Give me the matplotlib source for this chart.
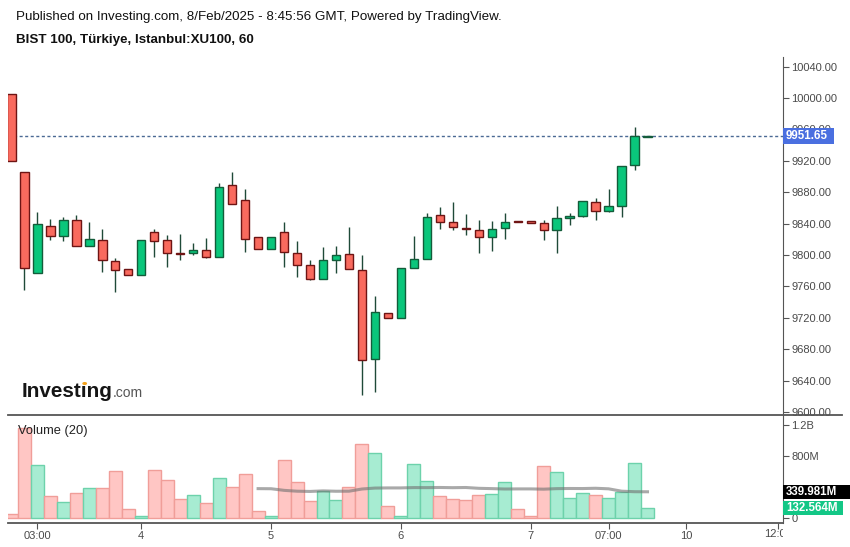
import matplotlib
matplotlib.use("Agg")
import matplotlib.pyplot as plt
import numpy as np
import pandas as pd
from matplotlib.patches import Rectangle, Circle
from matplotlib.lines import Line2D
from matplotlib.transforms import Bbox, TransformedBbox

plt.rcParams['font.family'] = ['Liberation Sans', 'DejaVu Sans']

# hourly candles, BIST 100
opens = [10004.7, 9905.4, 9776.7, 9836.9, 9823.8, 9844.2, 9811.1, 9818.7, 9791.9, 9781.8,
         9774.1, 9828.9, 9818.7, 9802.2, 9802.2, 9806.0, 9797.1, 9888.8, 9869.7, 9822.6,
         9807.3, 9828.9, 9802.2, 9786.9, 9769.0, 9793.2, 9800.9, 9780.5, 9667.1, 9725.7,
         9719.4, 9783.1, 9794.5, 9850.6, 9841.6, 9834.0, 9831.5, 9822.6, 9834.0, 9843.2,
         9842.9, 9840.4, 9831.5, 9846.7, 9849.3, 9867.1, 9855.7, 9862.0, 9914.3, 9950.6]
highs = [10004.7, 9905.4, 9854.4, 9845.9, 9848.4, 9850.9, 9842.0, 9833.1, 9795.8, 9781.8,
         9818.7, 9833.1, 9825.5, 9826.7, 9815.3, 9821.3, 9891.3, 9905.3, 9883.7, 9822.6,
         9822.6, 9841.6, 9817.4, 9793.2, 9809.8, 9811.1, 9835.3, 9799.6, 9747.4, 9725.7,
         9783.1, 9823.8, 9853.5, 9860.8, 9867.1, 9852.2, 9844.2, 9842.9, 9853.5, 9843.2,
         9842.9, 9844.2, 9862.0, 9853.5, 9868.4, 9872.2, 9883.7, 9913.0, 9962.7, 9951.65]
lows = [9919.7, 9755.4, 9776.7, 9819.5, 9818.2, 9811.1, 9811.1, 9777.9, 9752.5, 9774.1,
        9774.1, 9797.8, 9784.3, 9793.2, 9799.6, 9795.8, 9797.1, 9864.6, 9804.2, 9807.3,
        9807.3, 9785.1, 9771.6, 9767.8, 9769.0, 9776.7, 9781.8, 9621.3, 9625.1, 9719.4,
        9719.4, 9783.1, 9794.5, 9833.5, 9832.2, 9825.1, 9802.2, 9804.7, 9820.0, 9842.6,
        9840.4, 9818.7, 9802.2, 9837.8, 9848.0, 9844.2, 9854.5, 9848.0, 9907.9, 9950.6]
closes = [9919.7, 9783.1, 9839.1, 9823.8, 9844.2, 9811.1, 9820.0, 9793.2, 9780.5, 9774.1,
          9818.7, 9817.4, 9802.2, 9800.9, 9806.0, 9797.1, 9886.2, 9864.6, 9820.0, 9807.3,
          9822.6, 9803.4, 9786.9, 9769.0, 9793.2, 9799.6, 9781.8, 9665.9, 9727.0, 9719.4,
          9783.1, 9794.6, 9848.0, 9841.6, 9835.3, 9832.7, 9822.6, 9832.7, 9841.6, 9842.6,
          9840.4, 9831.5, 9846.7, 9849.3, 9868.4, 9855.7, 9862.0, 9913.0, 9951.2, 9951.65]
# volume in millions
volumes = [47.6, 1167, 683, 281, 203, 320, 385, 385, 605, 112,
           22, 618, 488, 242, 294, 190, 514, 398, 566, 95,
           22, 748, 463, 216, 346, 229, 398, 955, 847, 151,
           22.06, 705, 476, 281, 242, 238, 303, 316, 467, 121,
           22, 680, 600, 255, 329, 303, 255, 342, 710, 132.564]

tick_pos = [2, 10, 20, 30, 40, 46, 52, 59.05]
tick_labels = ['03:00', '4', '5', '6', '7', '07:00', '10', '12:00']
price_ticks = list(range(9600, 10041, 40))
vol_ticks = [0, 400, 800, 1200]
vol_tick_labels = ['0', '', '800M', '1.2B']  # 400M sits under the MA box

W, H = 850, 547
def fx(px):
    return px / W
def fy(py):
    return 1 - py / H

fig = plt.figure(figsize=(8.5, 5.47), dpi=100)
ax1 = fig.add_axes([fx(8), fy(415), (783 - 8) / W, (415 - 57) / H])
ax2 = fig.add_axes([fx(8), fy(523), (783 - 8) / W, (523 - 415) / H])

x = np.arange(len(opens))
o = np.array(opens); c = np.array(closes)
up = c > o

red_fill, red_edge = '#f96a5e', '#6e1414'
grn_fill, grn_edge = '#0ac67b', '#135c3a'
wick = '#1f4a38'
axis_col = '#555555'
lab_col = '#4a4a4a'

# candles
ax1.vlines(x, lows, highs, color=wick, lw=1, zorder=1)
ax1.bar(x, np.abs(c - o), bottom=np.minimum(o, c), width=0.64,
        color=np.where(up, grn_fill, red_fill), edgecolor=np.where(up, grn_edge, red_edge),
        linewidth=1, zorder=2)
ax1.axhline(closes[-1], color='#4b6a94', lw=1, ls=(0, (2.2, 1.8)), zorder=0)

ax1.set_xlim(-0.27, 59.44)
ax1.set_ylim(9596.2, 10052.2)
ax1.yaxis.tick_right()
ax1.set_yticks(price_ticks, [f'{v:.2f}' for v in price_ticks])
ax1.set_xticks([])
ax1.tick_params(axis='y', length=4, color=axis_col, labelsize=8.0, labelcolor=lab_col, pad=2)
for s in ['top', 'left', 'bottom']:
    ax1.spines[s].set_visible(False)
ax1.spines['right'].set_color(axis_col)

# volume
ma = pd.Series(volumes).rolling(20).mean()
ax2.bar(x, volumes, width=1.0, color=np.where(up, '#a7ecd2', '#ffc6c4'),
        edgecolor=np.where(up, '#6dd2ab', '#f09e99'), linewidth=1, zorder=1)
ax2.plot(x, ma, color='#707070', lw=2.2, alpha=0.6, zorder=2)
ax2.set_xlim(-0.27, 59.44)
ax2.set_ylim(-65, 1336)
ax2.yaxis.tick_right()
ax2.set_yticks(vol_ticks, vol_tick_labels)
ax2.set_xticks(tick_pos, tick_labels[:-1] + [''])
ax2.tick_params(length=4, color=axis_col, labelsize=8.0, labelcolor=lab_col, pad=2)
for s in ['top', 'left']:
    ax2.spines[s].set_visible(False)
ax2.spines['right'].set_color(axis_col)
ax2.spines['bottom'].set_color(axis_col)
ax2.spines['bottom'].set_linewidth(1.3)

# last x label cut by the axis edge
xp = ax2.transData.transform((tick_pos[-1], 0))[0]
t = fig.text(xp / W, fy(534), tick_labels[-1], ha='center', va='center',
             fontsize=8.0, color=lab_col, clip_on=True)
t.set_clip_box(TransformedBbox(Bbox.from_extents(0, 0, fx(783), 1), fig.transFigure))

fig.add_artist(Line2D([fx(8), fx(842)], [fy(415), fy(415)], color=axis_col, lw=1.3))

# value boxes on the right
def box(yp, w, h, fc, text):
    fig.add_artist(Rectangle((fx(783), (yp - h / 2) / H), w / W, h / H,
                             transform=fig.transFigure, fc=fc, ec='none', zorder=5))
    fig.text(fx(786), yp / H, text, ha='left', va='center', color='white',
             fontsize=8.3, fontweight='bold', zorder=6)

box(ax1.transData.transform((0, closes[-1]))[1], 51, 16, '#4a6fe0', f'{closes[-1]:.2f}')
box(ax2.transData.transform((0, ma.iloc[-1]))[1], 67, 14.5, '#000000', f'{ma.iloc[-1]:.3f}M')
box(ax2.transData.transform((0, volumes[-1]))[1], 60, 14.5, '#13c786', f'{volumes[-1]:.3f}M')

# header
fig.text(fx(16), fy(17), 'Published on Investing.com, 8/Feb/2025 - 8:45:56 GMT, Powered by TradingView.',
         fontsize=9.6, color='#111111', va='center')
fig.text(fx(16), fy(40), 'BIST 100, Türkiye, Istanbul:XU100, 60',
         fontsize=9.6, fontweight='bold', color='#111111', va='center')
fig.text(fx(18), fy(431), 'Volume (20)', fontsize=9.3, color='#222222', va='center')

# logo
r = fig.canvas.get_renderer()
logo = fig.text(fx(22), fy(397), 'Investıng', fontsize=14, fontweight='bold',
                color='#151515', va='baseline')
wl = logo.get_window_extent(r).width
logo.set_fontsize(14 * 91 / wl)
bb = logo.get_window_extent(r)
fig.text(bb.x1 / W, fy(397), '.com', fontsize=10, color='#555555', va='baseline')
tmp = fig.text(0, 0, 'Invest', fontsize=logo.get_fontsize(), fontweight='bold')
w1 = tmp.get_window_extent(r).width
tmp2 = fig.text(0, 0, 'ı', fontsize=logo.get_fontsize(), fontweight='bold')
w2 = tmp2.get_window_extent(r).width
tmp.remove(); tmp2.remove()
fig.add_artist(Circle(((22 + w1 + w2 / 2) / W, fy(383.5)), 2.4 / W,
                      transform=fig.transFigure, fc='#f4a21c', ec='none'))

fig.savefig('out.png', dpi=100)
